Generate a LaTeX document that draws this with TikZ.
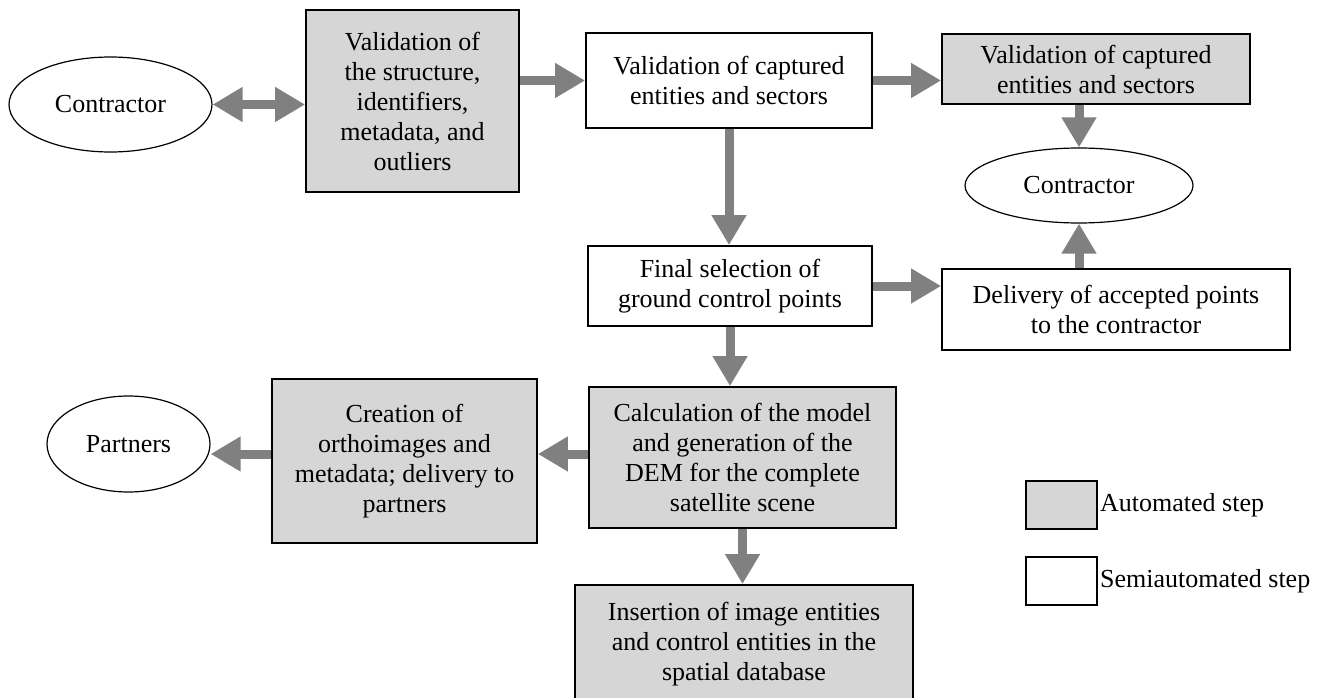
\documentclass[tikz,border=0pt]{standalone}
\usepackage{fontspec}
\setmainfont{Liberation Serif}
\usetikzlibrary{arrows.meta,shapes.geometric}
\definecolor{grisauto}{RGB}{214,214,214}
\definecolor{grisflecha}{RGB}{128,128,128}
\tikzset{
  etapa/.style={draw=black, line width=1.8pt, align=center, inner sep=0pt,
    font=\fontsize{26}{30}\selectfont},
  automat/.style={etapa, fill=grisauto},
  semiaut/.style={etapa, fill=white},
  actor/.style={ellipse, draw=black, line width=1.2pt, inner sep=0pt,
    font=\fontsize{26}{30}\selectfont},
  flecha/.style={draw=grisflecha, line width=9pt,
    -{Triangle[width=33pt,length=30pt]}},
  dobleflecha/.style={flecha, {Triangle[width=33pt,length=30pt]}-{Triangle[width=33pt,length=30pt]}}
}
\begin{document}
\begin{tikzpicture}[x=1pt,y=-1pt] %Flujo de validacion
  \useasboundingbox (0,0) rectangle (1327,698);

  \node[actor, minimum width=203, minimum height=95] (c1) at (110.5,104.5) {Contractor};
  \node[automat, minimum width=213, minimum height=182] (v1) at (412.5,101)
    {Validation of\\the structure,\\identifiers,\\metadata, and\\outliers};
  \node[semiaut, minimum width=286, minimum height=95] (v2) at (729,80.5)
    {Validation of captured\\entities and sectors};
  \node[automat, minimum width=308, minimum height=70] (v3) at (1096,69)
    {Validation of captured\\entities and sectors};
  \node[actor, minimum width=228, minimum height=75] (c2) at (1079,185.5) {Contractor};

  \node[semiaut, minimum width=284, minimum height=80] (fs) at (730,286)
    {Final selection of\\ground control points};
  \node[semiaut, minimum width=348, minimum height=81] (dl) at (1116,309.5)
    {Delivery of accepted points\\to the contractor};

  \node[automat, minimum width=307, minimum height=141] (calc) at (742.5,457.5)
    {Calculation of the model\\and generation of the\\DEM for the complete\\satellite scene};
  \node[automat, minimum width=265, minimum height=164] (cr) at (404.5,461)
    {Creation of\\orthoimages and\\metadata; delivery to\\partners};
  \node[actor, minimum width=163, minimum height=96] (pt) at (128.5,444) {Partners};

  \node[automat, minimum width=338, minimum height=118] (ins) at (744,644)
    {Insertion of image entities\\and control entities in the\\spatial database};

  % leyenda
  \node[automat, minimum width=71, minimum height=48] (la) at (1061.5,505) {};
  \node[semiaut, minimum width=71, minimum height=48] (ls) at (1061.5,581) {};
  \node[anchor=west, inner sep=2pt, font=\fontsize{26}{30}\selectfont] (ta) at (la.east) {Automated step};
  \node[anchor=west, inner sep=2pt, font=\fontsize{26}{30}\selectfont] (ts) at (ls.east) {Semiautomated step};

  % flechas
  \draw[dobleflecha] (c1.east) -- (v1.west |- c1.east);
  \draw[flecha] (v1.east |- v2.west) -- (v2.west);
  \draw[flecha] (v2.east) -- (v3.west |- v2.east);
  \draw[flecha] (v3.south -| c2.north) -- (c2.north);
  \draw[flecha] (dl.north -| c2.south) -- (c2.south);
  \draw[flecha] (v2.south) -- (v2.south |- fs.north);
  \draw[flecha] (fs.east) -- (dl.west |- fs.east);
  \draw[flecha] (fs.south) -- (fs.south |- calc.north);
  \draw[flecha] ([yshift=7pt]calc.west |- cr.east) -- ([yshift=7pt]cr.east);
  \draw[flecha] ([yshift=7pt]cr.west) -- ([yshift=7pt]cr.west -| pt.east);
  \draw[flecha] (calc.south) -- (calc.south |- ins.north);
\end{tikzpicture}
\end{document}
